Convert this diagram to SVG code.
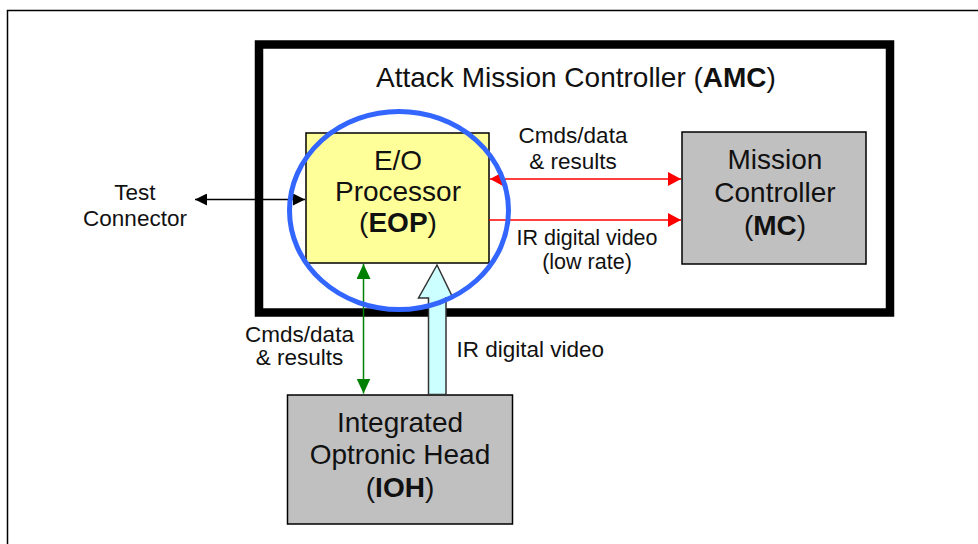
<svg xmlns="http://www.w3.org/2000/svg" width="978" height="544" viewBox="0 0 978 544">
<style>
text{font-family:"Liberation Sans",Arial,sans-serif;fill:#111;text-anchor:middle}
.big{font-size:28px}
.sm{font-size:22.5px}
.b{font-weight:bold}
.box{stroke:#000;stroke-width:1.5}
</style>
<defs>
<marker id="hr" markerUnits="userSpaceOnUse" markerWidth="14" markerHeight="14" refX="13" refY="7" orient="auto-start-reverse"><path d="M0,0 L13,7 L0,14 z" fill="#FF0000"/></marker>
<marker id="hk" markerUnits="userSpaceOnUse" markerWidth="13" markerHeight="12" refX="12" refY="6" orient="auto-start-reverse"><path d="M0,0 L12,6 L0,12 z" fill="#000"/></marker>
<marker id="hg" markerUnits="userSpaceOnUse" markerWidth="15" markerHeight="14" refX="15" refY="7" orient="auto-start-reverse"><path d="M0,0 L15,7 L0,14 z" fill="#008000"/></marker>
</defs>
<rect width="978" height="544" fill="#fff"/>
<rect x="7.5" y="10.5" width="1000" height="600" fill="none" stroke="#000" stroke-width="1.5"/>
<g id="AMC">
<rect x="259" y="44.5" width="631" height="268" fill="#fff" stroke="#000" stroke-width="8.5"/>
<text class="big" x="576" y="87">Attack Mission Controller (<tspan class="b">AMC</tspan>)</text>
</g>
<g id="EOP">
<rect class="box" x="306" y="133" width="183" height="130" fill="#FFFF99"/>
<text class="big" x="398" y="170">E/O</text>
<text class="big" x="398" y="201">Processor</text>
<text class="big" x="398" y="232">(<tspan class="b">EOP</tspan>)</text>
</g>
<g id="MC">
<rect class="box" x="682" y="132" width="184" height="132" fill="#C0C0C0"/>
<text class="big" x="775" y="169">Mission</text>
<text class="big" x="775" y="201.5">Controller</text>
<text class="big" x="775" y="235">(<tspan class="b">MC</tspan>)</text>
</g>
<g id="IOH">
<rect class="box" x="287.5" y="395" width="225" height="129" fill="#C0C0C0"/>
<text class="big" x="400" y="431.5">Integrated</text>
<text class="big" x="400" y="463.5">Optronic Head</text>
<text class="big" x="400" y="496.5">(<tspan class="b">IOH</tspan>)</text>
</g>
<g id="TestConnector">
<text class="sm" x="135" y="199.5">Test</text>
<text class="sm" x="135" y="226">Connector</text>
</g>
<g id="connectors">
<line x1="490" y1="179" x2="681" y2="179" stroke="#FF0000" stroke-width="1.5" marker-start="url(#hr)" marker-end="url(#hr)"/>
<line x1="489" y1="220" x2="681" y2="220" stroke="#FF0000" stroke-width="1.5" marker-end="url(#hr)"/>
<line x1="195" y1="199.5" x2="305" y2="199.5" stroke="#000" stroke-width="1.5" marker-start="url(#hk)" marker-end="url(#hk)"/>
<line x1="363.5" y1="264" x2="363.5" y2="393.5" stroke="#008000" stroke-width="1.5" marker-start="url(#hg)" marker-end="url(#hg)"/>
<polygon points="428.5,394.5 428.5,298 418.5,298 437,265 453,298 446,298 446,394.5" fill="#CCFFFF" stroke="#333" stroke-width="1.5"/>
<text class="sm" x="573" y="143">Cmds/data</text>
<text class="sm" x="573" y="168.5">&amp; results</text>
<text class="sm" x="587" y="244.5" style="font-size:21.5px">IR digital video</text>
<text class="sm" x="587" y="268.5" style="font-size:21.5px">(low rate)</text>
<text class="sm" x="299.5" y="341.5">Cmds/data</text>
<text class="sm" x="299.5" y="365">&amp; results</text>
<text class="sm" x="456.5" y="356.5" style="text-anchor:start">IR digital video</text>
</g>
<g id="highlight">
<ellipse cx="399" cy="210.5" rx="109.5" ry="99" fill="none" stroke="#3366FF" stroke-width="5"/>
</g>
</svg>
